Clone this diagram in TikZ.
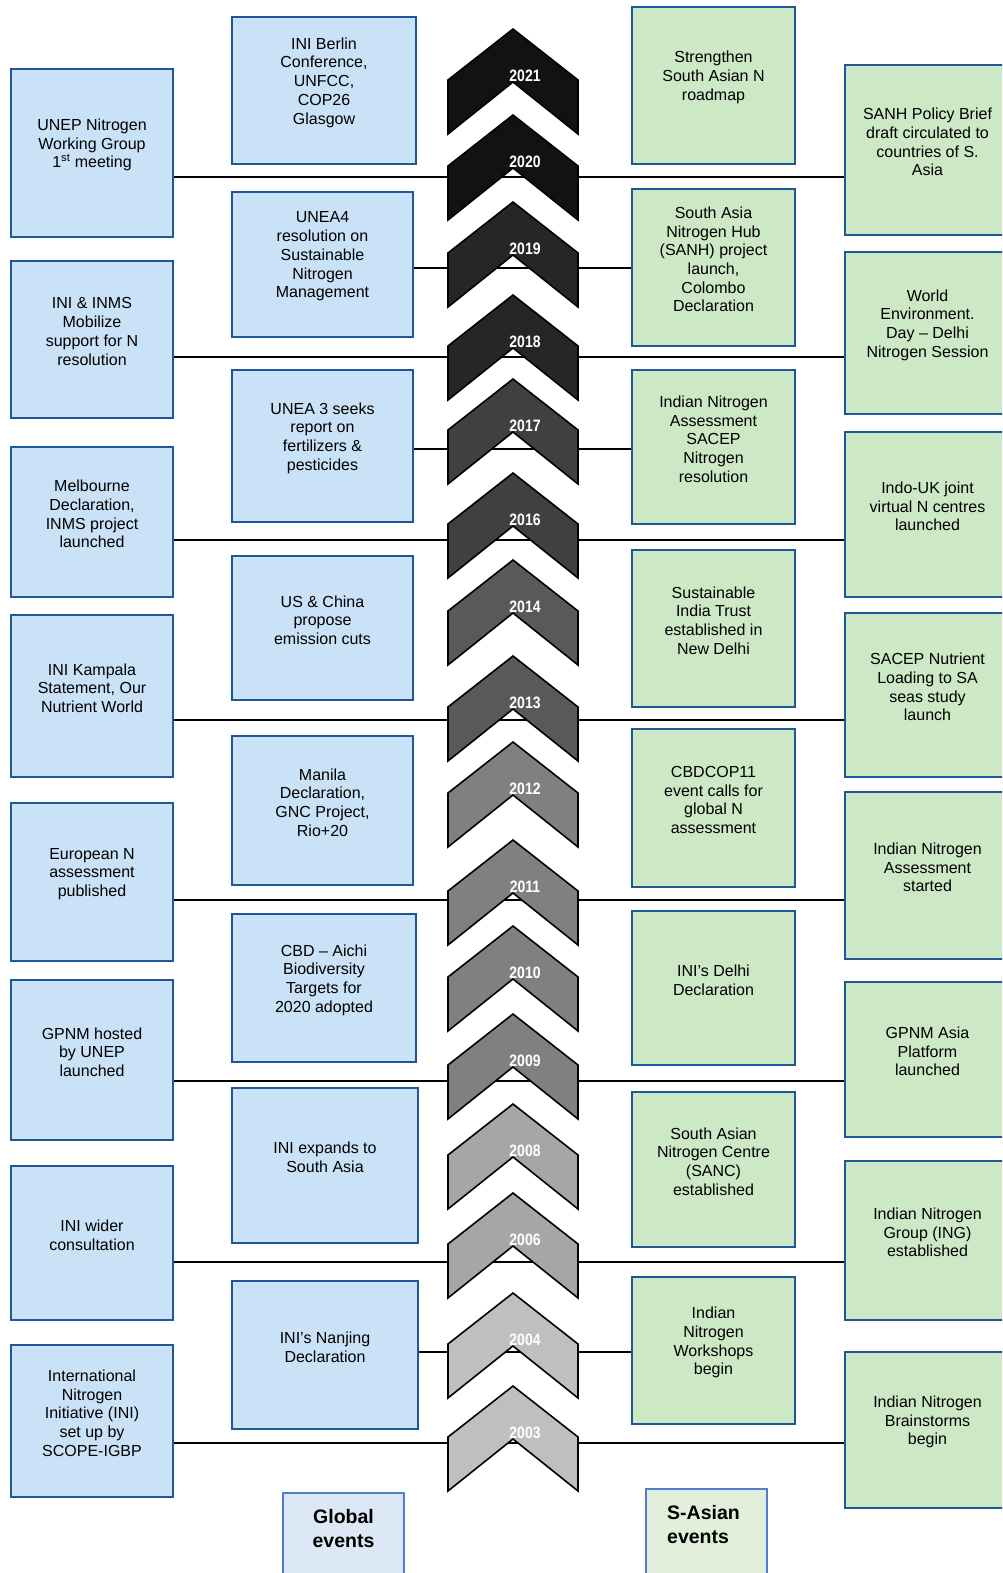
\documentclass[tikz,border=0pt]{standalone}
\usepackage{fontspec}
\setmainfont{Liberation Sans}
\usetikzlibrary{backgrounds}
\definecolor{boxblue}{RGB}{30,88,152}
\definecolor{gfill}{RGB}{201,226,248}
\definecolor{sfill}{RGB}{204,232,196}
\definecolor{keyline}{RGB}{80,125,205}
\definecolor{gkeyfill}{RGB}{221,232,246}
\definecolor{skeyfill}{RGB}{226,239,218}

\begin{document}
\begin{tikzpicture}[x=1pt,y=-1pt,
  gbox/.style={draw=boxblue,fill=gfill,line width=2.5pt,inner sep=0pt},
  sbox/.style={gbox,fill=sfill},
  txt/.style={align=center,font=\fontsize{16}{18.7}\selectfont,yshift=8pt},
  link/.style={line width=2.5pt},
  chev/.style={draw=black,line width=1.6pt},
  yearlbl/.style={text=white,font=\bfseries\fontsize{16.5}{16.5}\selectfont},
  keybox/.style={draw=keyline,line width=2pt,inner sep=0pt,minimum width=121,minimum height=100},
  keytxt/.style={font=\bfseries\fontsize{19.5}{24}\selectfont,yshift=14pt}]
  \useasboundingbox (0,0) rectangle (1002,1573);
  \clip (0,0) rectangle (1002,1573);

  % global events, outer column
  \node[gbox,minimum width=162,minimum height=168,label={[txt]center:{UNEP Nitrogen\\Working Group\\1\textsuperscript{st} meeting}}] (l1) at (92,153) {};
  \node[gbox,minimum width=162,minimum height=157,label={[txt]center:{INI \& INMS\\Mobilize\\support for N\\resolution}}] (l2) at (92,339.5) {};
  \node[gbox,minimum width=162,minimum height=150,label={[txt]center:{Melbourne\\Declaration,\\INMS project\\launched}}] (l3) at (92,522) {};
  \node[gbox,minimum width=162,minimum height=162,label={[txt]center:{INI Kampala\\Statement, Our\\Nutrient World}}] (l4) at (92,696) {};
  \node[gbox,minimum width=162,minimum height=158,label={[txt]center:{European N\\assessment\\published}}] (l5) at (92,882) {};
  \node[gbox,minimum width=162,minimum height=160,label={[txt]center:{GPNM hosted\\by UNEP\\launched}}] (l6) at (92,1060) {};
  \node[gbox,minimum width=162,minimum height=154,label={[txt]center:{INI wider\\consultation}}] (l7) at (92,1243) {};
  \node[gbox,minimum width=162,minimum height=152,label={[txt]center:{International\\Nitrogen\\Initiative (INI)\\set up by\\SCOPE-IGBP}}] (l8) at (92,1421) {};

  % global events, inner column
  \node[gbox,minimum width=184,minimum height=147,label={[txt]center:{INI Berlin\\Conference,\\UNFCC,\\COP26\\Glasgow}}] (ml1) at (324,90.5) {};
  \node[gbox,minimum width=181,minimum height=145,label={[txt]center:{UNEA4\\resolution on\\Sustainable\\Nitrogen\\Management}}] (ml2) at (322.5,264.5) {};
  \node[gbox,minimum width=181,minimum height=152,label={[txt]center:{UNEA 3 seeks\\report on\\fertilizers \&\\pesticides}}] (ml3) at (322.5,446) {};
  \node[gbox,minimum width=181,minimum height=144,label={[txt]center:{US \& China\\propose\\emission cuts}}] (ml4) at (322.5,628) {};
  \node[gbox,minimum width=181,minimum height=149,label={[txt]center:{Manila\\Declaration,\\GNC Project,\\Rio+20}}] (ml5) at (322.5,810.5) {};
  \node[gbox,minimum width=184,minimum height=148,label={[txt]center:{CBD – Aichi\\Biodiversity\\Targets for\\2020 adopted}}] (ml6) at (324,988) {};
  \node[gbox,minimum width=186,minimum height=155,label={[txt]center:{INI expands to\\South Asia}}] (ml7) at (325,1165.5) {};
  \node[gbox,minimum width=186,minimum height=148,label={[txt]center:{INI’s Nanjing\\Declaration}}] (ml8) at (325,1355) {};

  % S-Asian events, inner column
  \node[sbox,minimum width=163,minimum height=157,label={[txt]center:{Strengthen\\South Asian N\\roadmap}}] (mr1) at (713.5,85.5) {};
  \node[sbox,minimum width=163,minimum height=157,label={[txt]center:{South Asia\\Nitrogen Hub\\(SANH) project\\launch,\\Colombo\\Declaration}}] (mr2) at (713.5,267.5) {};
  \node[sbox,minimum width=163,minimum height=154,label={[txt]center:{Indian Nitrogen\\Assessment\\SACEP\\Nitrogen\\resolution}}] (mr3) at (713.5,447) {};
  \node[sbox,minimum width=163,minimum height=157,label={[txt]center:{Sustainable\\India Trust\\established in\\New Delhi}}] (mr4) at (713.5,628.5) {};
  \node[sbox,minimum width=163,minimum height=158,label={[txt]center:{CBDCOP11\\event calls for\\global N\\assessment}}] (mr5) at (713.5,808) {};
  \node[sbox,minimum width=163,minimum height=154,label={[txt]center:{INI’s Delhi\\Declaration}}] (mr6) at (713.5,988) {};
  \node[sbox,minimum width=163,minimum height=155,label={[txt]center:{South Asian\\Nitrogen Centre\\(SANC)\\established}}] (mr7) at (713.5,1169.5) {};
  \node[sbox,minimum width=163,minimum height=147,label={[txt]center:{Indian\\Nitrogen\\Workshops\\begin}}] (mr8) at (713.5,1350.5) {};

  % S-Asian events, outer column
  \node[sbox,minimum width=165,minimum height=170,label={[txt]center:{SANH Policy Brief\\draft circulated to\\countries of S.\\Asia}}] (r1) at (927.5,150) {};
  \node[sbox,minimum width=165,minimum height=162,label={[txt]center:{World\\Environment.\\Day – Delhi\\Nitrogen Session}}] (r2) at (927.5,333) {};
  \node[sbox,minimum width=165,minimum height=165,label={[txt]center:{Indo-UK joint\\virtual N centres\\launched}}] (r3) at (927.5,514.5) {};
  \node[sbox,minimum width=165,minimum height=164,label={[txt]center:{SACEP Nutrient\\Loading to SA\\seas study\\launch}}] (r4) at (927.5,695) {};
  \node[sbox,minimum width=165,minimum height=167,label={[txt]center:{Indian Nitrogen\\Assessment\\started}}] (r5) at (927.5,875.5) {};
  \node[sbox,minimum width=165,minimum height=155,label={[txt]center:{GPNM Asia\\Platform\\launched}}] (r6) at (927.5,1059.5) {};
  \node[sbox,minimum width=165,minimum height=159,label={[txt]center:{Indian Nitrogen\\Group (ING)\\established}}] (r7) at (927.5,1240.5) {};
  \node[sbox,minimum width=165,minimum height=156,label={[txt]center:{Indian Nitrogen\\Brainstorms\\begin}}] (r8) at (927.5,1430) {};

  % year lines
  \coordinate (t2020) at (513,177);
  \coordinate (t2019) at (513,268);
  \coordinate (t2018) at (513,357);
  \coordinate (t2017) at (513,449);
  \coordinate (t2016) at (513,540);
  \coordinate (t2013) at (513,720);
  \coordinate (t2011) at (513,900);
  \coordinate (t2009) at (513,1081);
  \coordinate (t2006) at (513,1262);
  \coordinate (t2004) at (513,1352);
  \coordinate (t2003) at (513,1443);
  \begin{scope}[on background layer]
    \draw[link] (l1.east |- t2020) -- (r1.west |- t2020);
    \draw[link] (ml2.east |- t2019) -- (mr2.west |- t2019);
    \draw[link] (l2.east |- t2018) -- (r2.west |- t2018);
    \draw[link] (ml3.east |- t2017) -- (mr3.west |- t2017);
    \draw[link] (l3.east |- t2016) -- (r3.west |- t2016);
    \draw[link] (l4.east |- t2013) -- (r4.west |- t2013);
    \draw[link] (l5.east |- t2011) -- (r5.west |- t2011);
    \draw[link] (l6.east |- t2009) -- (r6.west |- t2009);
    \draw[link] (l7.east |- t2006) -- (r7.west |- t2006);
    \draw[link] (ml8.east |- t2004) -- (mr8.west |- t2004);
    \draw[link] (l8.east |- t2003) -- (r8.west |- t2003);
  \end{scope}

  % chevrons
  \foreach \yr/\t/\g in {2021/29/93,2020/115/93,2019/202/85,2018/295/85,
      2017/379/75,2016/473/75,2014/560/65,2013/656/65,2012/742/50,2011/840/50,
      2010/926/50,2009/1014/50,2008/1104/35,2006/1193/35,2004/1293/25,2003/1386/25}{
    \draw[chev,fill=black!\g] (513,\t) -- (578,\t+51) -- (578,\t+105) -- (513,\t+53)
      -- (448,\t+105) -- (448,\t+51) -- cycle;
    \node[yearlbl] (y\yr) at (525,\t+47) {\scalebox{0.85}[1]{\yr}};
  }

  % key
  \node[keybox,fill=gkeyfill,label={[keytxt,align=center]center:{Global\\events}}] (gkey) at (343.5,1543) {};
  \node[keybox,fill=skeyfill,label={[keytxt,align=left,xshift=-3pt]center:{S-Asian\\events}}] (skey) at (706.5,1539) {};
\end{tikzpicture}
\end{document}
